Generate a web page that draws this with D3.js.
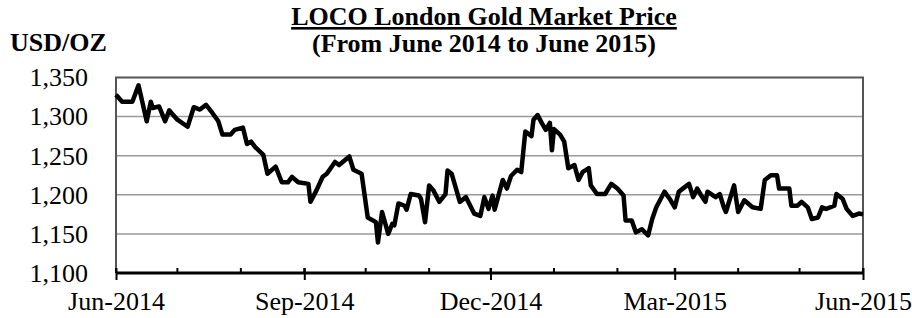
<!DOCTYPE html>
<meta charset="utf-8">
<style>
body { margin: 0; background: #fff; }
text { font-family: "Liberation Serif", "Times New Roman", serif; fill: #000; }
.title { font-size: 26px; font-weight: bold; text-anchor: middle; }
.tick text { font-size: 26px; }
</style>
<body>
<script src="https://cdn.jsdelivr.net/npm/d3@7"></script>
<script>
// price readings (USD/oz)
var dates = ["2014-06-01","2014-06-04","2014-06-09","2014-06-12","2014-06-16","2014-06-18","2014-06-19","2014-06-22","2014-06-23","2014-06-25","2014-06-27","2014-06-28",
  "2014-07-01","2014-07-06","2014-07-09","2014-07-12","2014-07-15","2014-07-18","2014-07-21","2014-07-23","2014-07-27","2014-07-29",
  "2014-08-02","2014-08-04","2014-08-06","2014-08-08","2014-08-12","2014-08-14","2014-08-18","2014-08-21","2014-08-24","2014-08-26","2014-08-29",
  "2014-09-03","2014-09-04","2014-09-07","2014-09-10","2014-09-12","2014-09-16","2014-09-18","2014-09-23","2014-09-25","2014-09-29",
  "2014-10-02","2014-10-06","2014-10-07","2014-10-09","2014-10-12","2014-10-14","2014-10-15","2014-10-17","2014-10-20","2014-10-21","2014-10-23","2014-10-27","2014-10-28","2014-10-30",
  "2014-11-01","2014-11-03","2014-11-06","2014-11-09","2014-11-10","2014-11-12","2014-11-16","2014-11-19","2014-11-23","2014-11-26","2014-11-28","2014-11-30",
  "2014-12-02","2014-12-03","2014-12-07","2014-12-09","2014-12-11","2014-12-14","2014-12-16","2014-12-18","2014-12-21","2014-12-22","2014-12-24","2014-12-26","2014-12-28","2014-12-30","2014-12-31",
  "2015-01-01","2015-01-04","2015-01-06","2015-01-08","2015-01-11","2015-01-13","2015-01-15","2015-01-18","2015-01-19","2015-01-22","2015-01-26","2015-01-29",
  "2015-02-01","2015-02-04","2015-02-05","2015-02-08","2015-02-10","2015-02-13","2015-02-16","2015-02-18","2015-02-20","2015-02-24","2015-02-27",
  "2015-03-01","2015-03-03","2015-03-04","2015-03-08","2015-03-10","2015-03-12","2015-03-14","2015-03-16","2015-03-17","2015-03-21","2015-03-23","2015-03-25","2015-03-26","2015-03-30",
  "2015-04-01","2015-04-04","2015-04-08","2015-04-12","2015-04-14","2015-04-17","2015-04-20","2015-04-21","2015-04-26","2015-04-27","2015-04-30",
  "2015-05-02","2015-05-05","2015-05-07","2015-05-10","2015-05-12","2015-05-14","2015-05-18","2015-05-19","2015-05-22","2015-05-24","2015-05-27","2015-05-30","2015-06-01"];

var prices = [1328,1319,1319,1340,1294,1319,1311,1313,1307,1294,1308,1305,
  1296,1287,1312,1309,1315,1305,1294,1277,1277,1283,
  1286,1265,1268,1261,1251,1227,1236,1216,1216,1223,1216,
  1214,1191,1206,1223,1227,1242,1238,1249,1232,1227,
  1171,1165,1139,1178,1150,1163,1161,1189,1186,1181,1201,1199,1195,1165,
  1212,1206,1191,1201,1231,1227,1191,1197,1176,1173,1197,1182,
  1199,1181,1219,1208,1224,1232,1229,1281,1275,1296,1302,1292,1283,1292,1257,
  1284,1277,1268,1234,1238,1219,1229,1234,1212,1201,1201,1214,
  1208,1199,1167,1167,1152,1156,1148,1169,1184,1204,1193,
  1184,1204,1206,1214,1197,1208,1199,1191,1204,1197,1201,1184,1178,1212,
  1178,1193,1184,1182,1219,1225,1225,1208,1208,1186,1186,
  1191,1184,1169,1171,1184,1182,1186,1201,1195,1182,1173,1176,1175];

var yTicks = [1100, 1150, 1200, 1250, 1300, 1350];
var majorTicks = ["2014-06-01","2014-09-01","2014-12-01","2015-03-01","2015-06-01"];

var margin = {top: 77.5, right: 49, bottom: 45, left: 116},
    width = 912 - margin.left - margin.right,
    height = 318 - margin.top - margin.bottom;

var parseDate = d3.timeParse("%Y-%m-%d");
var data = dates.map(function(d, i) { return {date: parseDate(d), value: prices[i]}; });

var x = d3.scaleTime()
    .domain([parseDate("2014-06-01"), parseDate("2015-06-01")])
    .range([0, width]);
var y = d3.scaleLinear().domain([1100, 1350]).range([height, 0]);

var svg = d3.select("body").append("svg")
    .attr("width", 912)
    .attr("height", 318);

// titles
svg.append("text").attr("class", "title")
    .attr("x", 484).attr("y", 25)
    .style("text-decoration", "underline")
    .text("LOCO London Gold Market Price");
svg.append("text").attr("class", "title")
    .attr("x", 484).attr("y", 52)
    .text("(From June 2014 to June 2015)");
svg.append("text")
    .attr("x", 10).attr("y", 51)
    .style("font-size", "26px").style("font-weight", "bold")
    .text("USD/OZ");

var g = svg.append("g")
    .attr("transform", "translate(" + margin.left + "," + margin.top + ")");

// gridlines
g.selectAll(".grid")
    .data(yTicks.filter(function(d) { return d > 1100 && d < 1350; }))
  .enter().append("line")
    .attr("x1", 0).attr("x2", width)
    .attr("y1", function(d) { return y(d); })
    .attr("y2", function(d) { return y(d); })
    .attr("stroke", "#9a9a9a").attr("stroke-width", 1.5);

// frame (top, left, right)
g.append("path")
    .attr("d", "M0," + height + "V0H" + width + "V" + height)
    .attr("fill", "none").attr("stroke", "#555").attr("stroke-width", 2);

// y axis labels
var yAxis = g.append("g")
    .call(d3.axisLeft(y).tickValues(yTicks).tickSize(0).tickPadding(28).tickFormat(d3.format(",")));
yAxis.select(".domain").remove();

// x axis: monthly minor ticks inside, quarterly major ticks crossing
var xAxis = g.append("g")
    .attr("transform", "translate(0," + height + ")");
xAxis.selectAll(".minor")
    .data(x.ticks(d3.timeMonth.every(1)))
  .enter().append("line")
    .attr("x1", function(d) { return x(d); }).attr("x2", function(d) { return x(d); })
    .attr("y1", -5).attr("y2", 0)
    .attr("stroke", "#000").attr("stroke-width", 2);
xAxis.call(d3.axisBottom(x)
    .tickValues(majorTicks.map(parseDate))
    .tickSize(7).tickPadding(12)
    .tickFormat(d3.timeFormat("%b-%Y")));
xAxis.select(".domain").attr("stroke-width", 3).attr("d", "M0,0H" + width);
xAxis.selectAll(".tick line").attr("y1", -5).attr("stroke-width", 2);

// price line
g.append("path")
    .datum(data)
    .attr("fill", "none")
    .attr("stroke", "#000")
    .attr("stroke-width", 4.5)
    .attr("stroke-linejoin", "round")
    .attr("d", d3.line()
        .x(function(d) { return x(d.date); })
        .y(function(d) { return y(d.value); }));
</script>
</body>
